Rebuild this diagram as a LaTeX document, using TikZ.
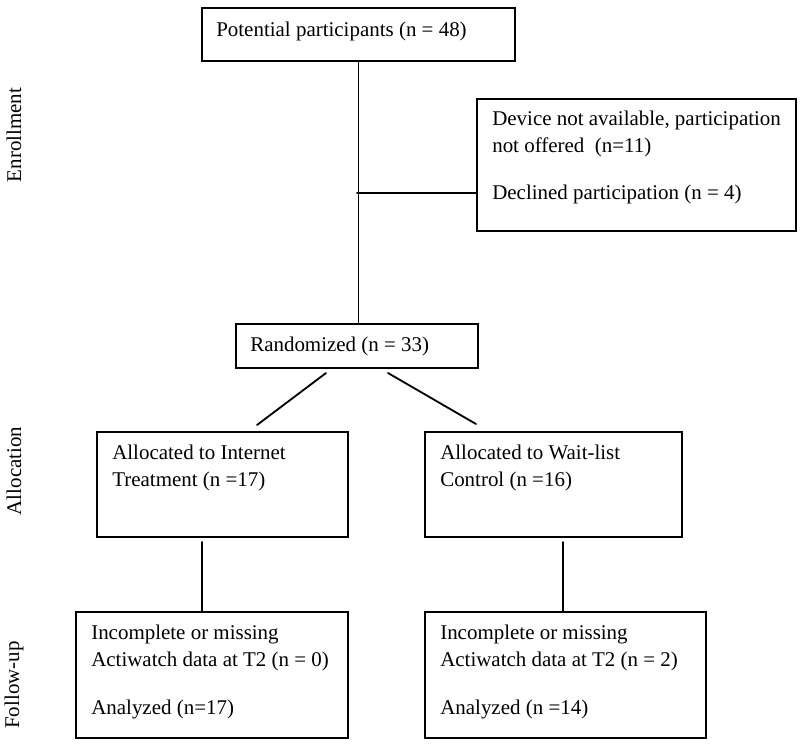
\documentclass[tikz,border=0pt]{standalone}
\usepackage{fontspec}
\setmainfont{Liberation Serif}
\begin{document}
\begin{tikzpicture}[x=0.025cm,y=-0.025cm,line cap=round]
\tikzstyle{box}=[draw,line width=1.3pt,inner sep=0pt,anchor=north west]
\tikzstyle{txt}=[anchor=base west,align=left,inner sep=0pt,font=\fontsize{14.9}{19.2}\selectfont]
\tikzstyle{phase}=[rotate=90,inner sep=0pt,font=\fontsize{14.9}{19.2}\selectfont]
\tikzstyle{link}=[line width=1.3pt]
\useasboundingbox (0,0) rectangle (800,745);
% boxes
\node[box,minimum width=313*0.025cm,minimum height=53*0.025cm] (pot) at (201,7) {};
\node[box,minimum width=319*0.025cm,minimum height=132*0.025cm] (excl) at (476,98) {};
\node[box,minimum width=242*0.025cm,minimum height=44*0.025cm] (rand) at (235,323) {};
\node[box,minimum width=251*0.025cm,minimum height=105*0.025cm] (allocA) at (96,431) {};
\node[box,minimum width=257*0.025cm,minimum height=105*0.025cm] (allocB) at (424,431) {};
\node[box,minimum width=272*0.025cm,minimum height=126*0.025cm] (fupA) at (75,611) {};
\node[box,minimum width=281*0.025cm,minimum height=126*0.025cm] (fupB) at (424,611) {};
% texts (base = last line)
\node[txt] (potT) at (216,36) {Potential participants (n = 48)};
\node[txt] (exclT1) at (492,152) {Device not available, participation\\not offered~ (n=11)};
\node[txt] (exclT2) at (492,199) {Declined participation (n = 4)};
\node[txt] (randT) at (250,351) {Randomized (n = 33)};
\node[txt] (allocAT) at (112,486) {Allocated to Internet\\Treatment (n =17)};
\node[txt] (allocBT) at (440,486) {Allocated to Wait-list\\Control (n =16)};
\node[txt] (fupAT1) at (91,666) {Incomplete or missing\\Actiwatch data at T2 (n = 0)};
\node[txt] (fupAT2) at (91,714) {Analyzed (n=17)};
\node[txt] (fupBT1) at (440,666) {Incomplete or missing\\Actiwatch data at T2 (n = 2)};
\node[txt] (fupBT2) at (440,714) {Analyzed (n =14)};
% phases
\node[phase] (enr) at (14,135) {Enrollment};
\node[phase] (all) at (14,471) {Allocation};
\node[phase] (fol) at (14,685) {Follow-up};
% connectors
\coordinate (split) at (357,193);
\coordinate (dl1) at (326,373);
\coordinate (dl2) at (257,425);
\coordinate (dr1) at (388,373);
\coordinate (dr2) at (476,424);
\coordinate (vA) at (202,542);
\coordinate (vB) at (563,542);
\draw[link] (pot.south) -- (pot.south |- rand.north);
\draw[link] (split) -- (split -| excl.west);
\draw[link] (dl1) -- (dl2);
\draw[link] (dr1) -- (dr2);
\draw[link] (vA) -- (vA |- fupA.north);
\draw[link] (vB) -- (vB |- fupB.north);
\end{tikzpicture}
\end{document}
